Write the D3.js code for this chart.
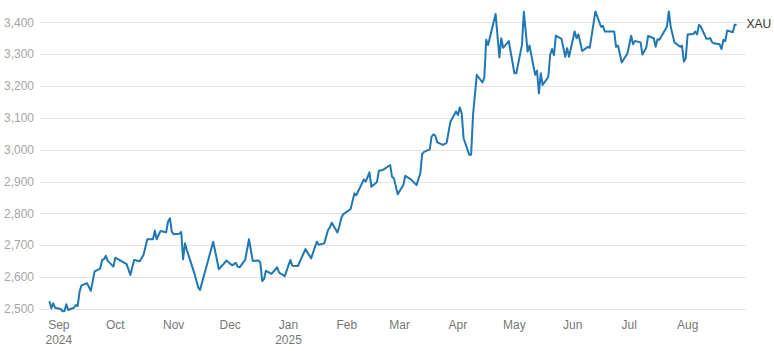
<!DOCTYPE html>
<html>
<head>
<meta charset="utf-8">
<script src="https://cdn.jsdelivr.net/npm/d3@7"></script>
<style>
  html, body { margin: 0; padding: 0; background: #fff; }
  #chart { width: 774px; height: 351px; }
  text { font-family: "Liberation Sans", Arial, sans-serif; }
</style>
</head>
<body>
<div id="chart"></div>
<script>
// XAU price (approx. trading-day closes)
const dates = [
  "2024-08-27","2024-08-28","2024-08-29","2024-08-30","2024-09-02","2024-09-03","2024-09-04","2024-09-05",
  "2024-09-06","2024-09-09","2024-09-10","2024-09-11","2024-09-12","2024-09-13","2024-09-16","2024-09-18",
  "2024-09-20","2024-09-23","2024-09-24","2024-09-25","2024-09-26","2024-09-27","2024-09-30","2024-10-01",
  "2024-10-04","2024-10-07","2024-10-09","2024-10-11","2024-10-14","2024-10-16","2024-10-18","2024-10-21",
  "2024-10-22","2024-10-23","2024-10-25","2024-10-28","2024-10-29","2024-10-30","2024-10-31","2024-11-01",
  "2024-11-04","2024-11-05","2024-11-06","2024-11-07","2024-11-08","2024-11-12","2024-11-14","2024-11-15",
  "2024-11-22","2024-11-25","2024-11-27","2024-11-29","2024-12-02","2024-12-04","2024-12-05","2024-12-06",
  "2024-12-09","2024-12-11","2024-12-13","2024-12-16","2024-12-17","2024-12-18","2024-12-19","2024-12-20",
  "2024-12-23","2024-12-26","2024-12-27","2024-12-30","2025-01-02","2025-01-03","2025-01-06","2025-01-10",
  "2025-01-13","2025-01-16","2025-01-17","2025-01-20","2025-01-22","2025-01-23","2025-01-24","2025-01-27",
  "2025-01-28","2025-01-29","2025-01-30","2025-02-03","2025-02-05","2025-02-06","2025-02-10","2025-02-11",
  "2025-02-13","2025-02-14","2025-02-17","2025-02-18","2025-02-20","2025-02-21","2025-02-24","2025-02-25",
  "2025-02-26","2025-02-28","2025-03-03","2025-03-04","2025-03-07","2025-03-10","2025-03-12","2025-03-13",
  "2025-03-14","2025-03-17","2025-03-18","2025-03-19","2025-03-20","2025-03-21","2025-03-24","2025-03-25",
  "2025-03-26","2025-03-28","2025-03-31","2025-04-01","2025-04-02","2025-04-03","2025-04-04","2025-04-07",
  "2025-04-08","2025-04-09","2025-04-11","2025-04-14","2025-04-15","2025-04-16","2025-04-17","2025-04-21",
  "2025-04-23","2025-04-24","2025-04-25","2025-04-28","2025-05-01","2025-05-02","2025-05-05","2025-05-06",
  "2025-05-08","2025-05-09","2025-05-12","2025-05-13","2025-05-14","2025-05-15","2025-05-16","2025-05-19",
  "2025-05-20","2025-05-21","2025-05-22","2025-05-23","2025-05-26","2025-05-28","2025-05-29","2025-05-30",
  "2025-06-02","2025-06-03","2025-06-04","2025-06-06","2025-06-09","2025-06-10","2025-06-13","2025-06-16",
  "2025-06-17","2025-06-18","2025-06-23","2025-06-24","2025-06-25","2025-06-27","2025-06-30","2025-07-02",
  "2025-07-03","2025-07-04","2025-07-07","2025-07-08","2025-07-10","2025-07-11","2025-07-14","2025-07-15",
  "2025-07-16","2025-07-17","2025-07-21","2025-07-22","2025-07-23","2025-07-25","2025-07-28","2025-07-29",
  "2025-07-30","2025-07-31","2025-08-01","2025-08-04","2025-08-05","2025-08-06","2025-08-07","2025-08-08",
  "2025-08-11","2025-08-13","2025-08-14","2025-08-15","2025-08-18","2025-08-19","2025-08-20","2025-08-21",
  "2025-08-22","2025-08-25","2025-08-26","2025-08-27"
];

const prices = [
  2524, 2502, 2518, 2504, 2500, 2493, 2494, 2515,
  2497, 2504, 2512, 2509, 2554, 2574, 2581, 2557,
  2618, 2627, 2654, 2656, 2667, 2651, 2633, 2661,
  2651, 2641, 2607, 2654, 2650, 2670, 2719, 2719,
  2746, 2719, 2745, 2741, 2774, 2785, 2743, 2735,
  2736, 2742, 2656, 2706, 2685, 2612, 2568, 2560,
  2711, 2625, 2638, 2652, 2637, 2645, 2633, 2631,
  2654, 2719, 2651, 2652, 2647, 2588, 2594, 2620,
  2610, 2631, 2614, 2603, 2654, 2636, 2635, 2688,
  2659, 2711, 2702, 2706, 2748, 2756, 2771, 2740,
  2760, 2785, 2797, 2814, 2863, 2857, 2907, 2900,
  2929, 2884, 2899, 2934, 2936, 2940, 2952, 2915,
  2910, 2860, 2889, 2918, 2907, 2889, 2926, 2987,
  2993, 3001, 3041, 3048, 3044, 3023, 3015, 3018,
  3022, 3088, 3120, 3109, 3133, 3114, 3036, 2984,
  2984, 3109, 3235, 3211, 3226, 3345, 3329, 3426,
  3290, 3350, 3320, 3341, 3240, 3240, 3329, 3433,
  3308, 3327, 3235, 3248, 3177, 3240, 3203, 3229,
  3299, 3316, 3297, 3358, 3348, 3292, 3319, 3292,
  3371, 3350, 3362, 3310, 3323, 3320, 3434, 3386,
  3389, 3371, 3371, 3323, 3327, 3274, 3302, 3358,
  3331, 3341, 3337, 3299, 3320, 3357, 3350, 3323,
  3347, 3345, 3386, 3434, 3386, 3337, 3323, 3327,
  3277, 3287, 3362, 3363, 3371, 3362, 3392, 3386,
  3348, 3350, 3337, 3334, 3331, 3316, 3345, 3341,
  3374, 3369, 3392, 3392
];

const seriesName = "XAU";
const yTicks = [2500, 2600, 2700, 2800, 2900, 3000, 3100, 3200, 3300, 3400];
const monthTicks = [
  "2024-09-01","2024-10-01","2024-11-01","2024-12-01","2025-01-01","2025-02-01",
  "2025-03-01","2025-04-01","2025-05-01","2025-06-01","2025-07-01","2025-08-01"
];
const yearLabels = { "2024-09-01": "2024", "2025-01-01": "2025" };

const parse = d3.timeParse("%Y-%m-%d");
const data = dates.map((d, i) => ({ date: parse(d), value: prices[i] }));

const width = 774;
const height = 351;

const svg = d3.select("#chart")
  .append("svg")
  .attr("width", width)
  .attr("height", height)
  .attr("viewBox", `0 0 ${width} ${height}`);

const x = d3.scaleTime()
  .domain([parse("2024-08-22"), parse("2025-09-01")])
  .range([40, 746]);

const y = d3.scaleLinear()
  .domain([2500, 3400])
  .range([309, 22.3]);

// Gridlines
svg.append("g")
  .selectAll("line")
  .data(yTicks)
  .enter()
  .append("line")
  .attr("x1", x.range()[0])
  .attr("x2", x.range()[1])
  .attr("y1", d => Math.round(y(d)) + 0.5)
  .attr("y2", d => Math.round(y(d)) + 0.5)
  .attr("stroke", "#e3e3e3")
  .attr("stroke-width", 1);

// Y labels
svg.append("g")
  .selectAll("text")
  .data(yTicks)
  .enter()
  .append("text")
  .attr("x", 34)
  .attr("y", d => y(d))
  .attr("dy", "0.35em")
  .attr("text-anchor", "end")
  .style("font-size", "12px")
  .style("fill", "#a6a6a6")
  .text(d => d3.format(",")(d));

// X labels
const xLab = svg.append("g")
  .selectAll("text")
  .data(monthTicks)
  .enter()
  .append("text")
  .attr("x", d => x(parse(d)))
  .attr("y", 329)
  .attr("text-anchor", "middle")
  .style("font-size", "12px")
  .style("fill", "#777");

xLab.append("tspan")
  .text(d => d3.timeFormat("%b")(parse(d)));

xLab.filter(d => yearLabels[d])
  .append("tspan")
  .attr("x", d => x(parse(d)))
  .attr("dy", 15)
  .text(d => yearLabels[d]);

// Price line
const line = d3.line()
  .x(d => x(d.date))
  .y(d => y(d.value));

svg.append("path")
  .datum(data)
  .attr("fill", "none")
  .attr("stroke", "#1f77b4")
  .attr("stroke-width", 2)
  .attr("stroke-linejoin", "round")
  .attr("d", line);

// Series label at the end of the line
const last = data[data.length - 1];
svg.append("text")
  .attr("x", x(last.date) + 10)
  .attr("y", y(last.value))
  .attr("dy", "0.3em")
  .style("font-size", "12px")
  .style("fill", "#333")
  .text(seriesName);
</script>
</body>
</html>
